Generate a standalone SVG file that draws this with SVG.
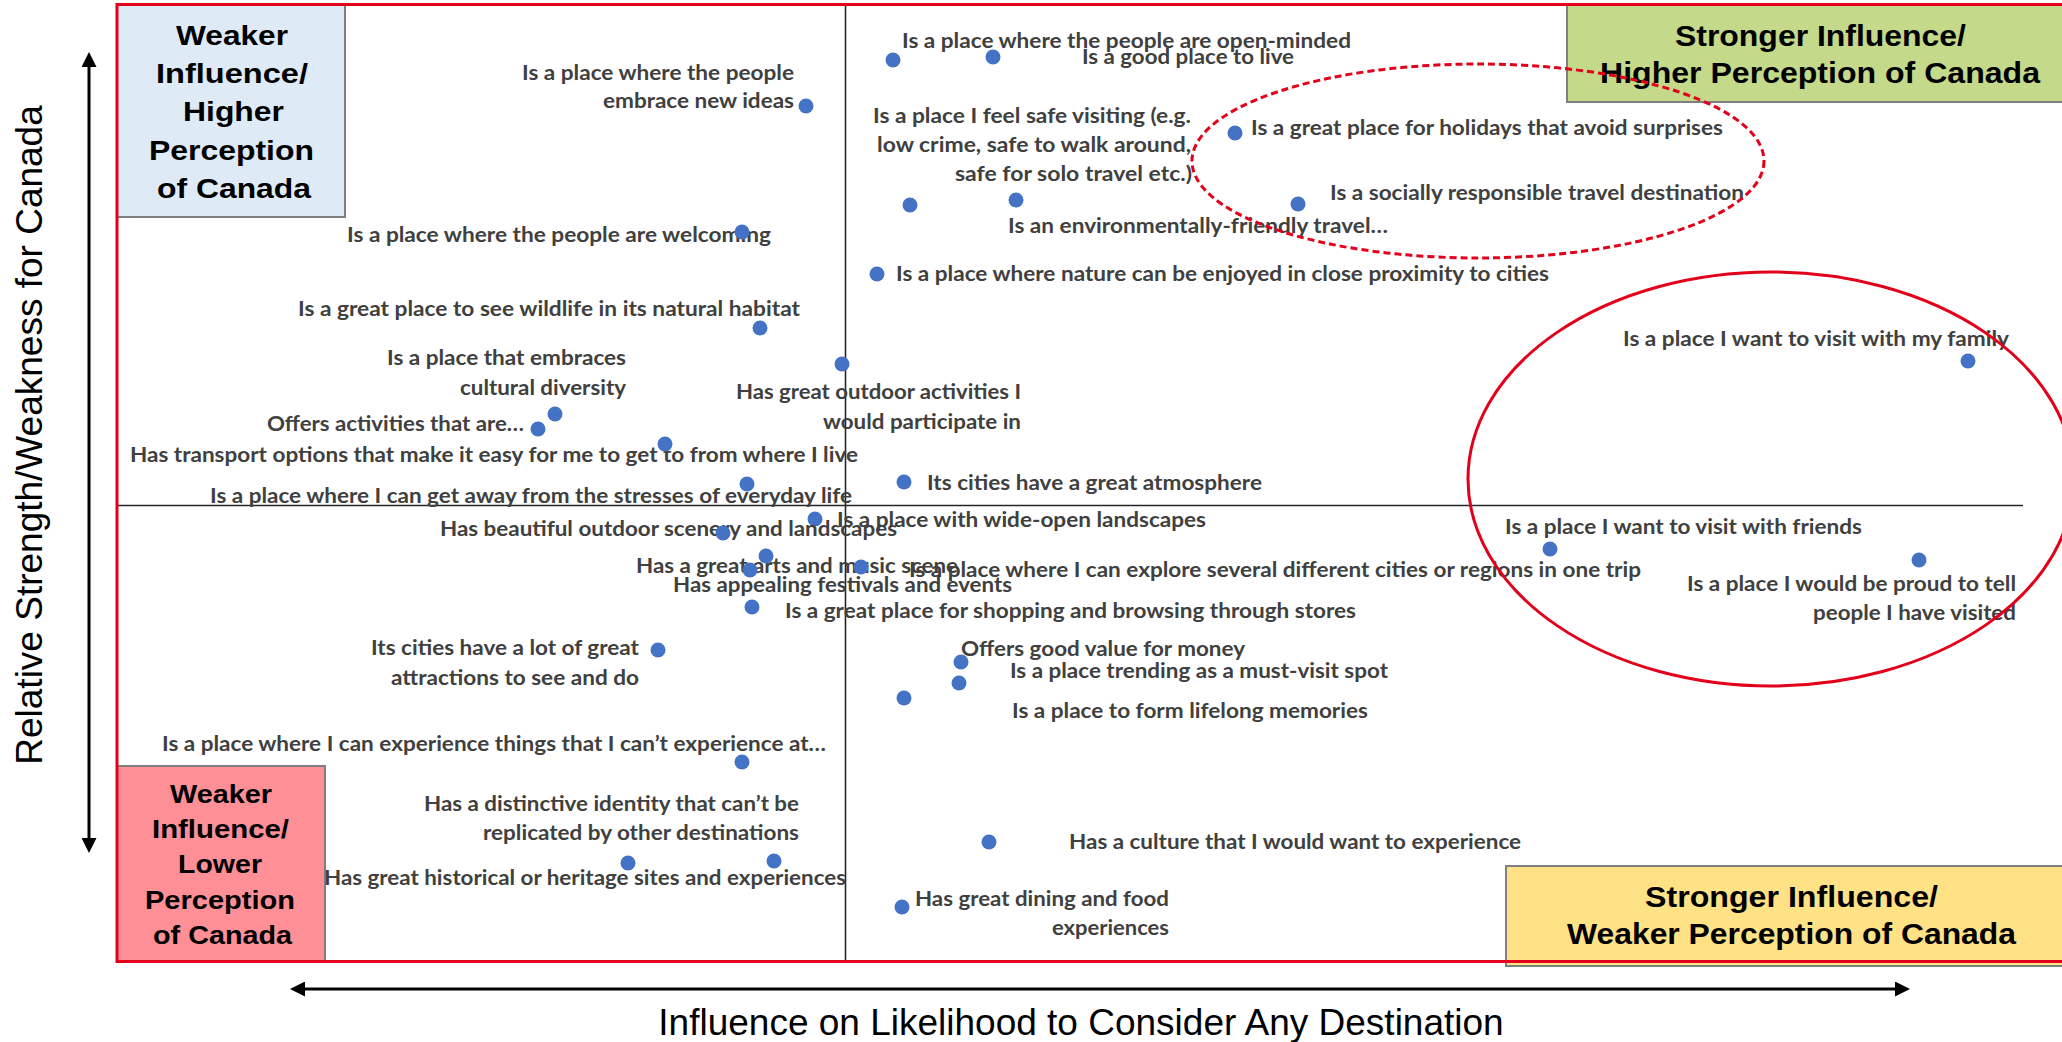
<svg xmlns="http://www.w3.org/2000/svg" width="2062" height="1042" viewBox="0 0 2062 1042">
<defs>
<style>
.lbl{font-family:Lato,"Liberation Sans",sans-serif;font-weight:700;font-size:21.5px;fill:#404040}
.qt{font-family:"Liberation Sans",Arial,sans-serif;font-weight:700;fill:#000}
.qbox{stroke:#7F7F7F;stroke-width:2}
.dot{fill:#4472C4}
.ax{font-family:"Liberation Sans",Arial,sans-serif;font-size:37px;fill:#000}
.div{stroke:#262626;stroke-width:1.6;fill:none}
.axis{stroke:#000;stroke-width:3;fill:none}
.ell{fill:none;stroke:#E2001A;stroke-width:3}
</style>
<marker id="ah" viewBox="0 0 15 15" refX="3" refY="7.5" markerWidth="15" markerHeight="15" markerUnits="userSpaceOnUse" orient="auto-start-reverse">
<path d="M0,0 L15,7.5 L0,15 Z" fill="#000"/>
</marker>
</defs>
<rect x="0" y="0" width="2062" height="1042" fill="#fff"/>

<g id="quadrant-boxes">
<g id="box-weaker-higher">
<rect class="qbox" x="117" y="4" width="228" height="213" fill="#DEEBF7"/>
<text class="qt" font-size="28.5" x="176" y="44.5" textLength="112" lengthAdjust="spacingAndGlyphs">Weaker</text>
<text class="qt" font-size="28.5" x="156" y="83" textLength="152" lengthAdjust="spacingAndGlyphs">Influence/</text>
<text class="qt" font-size="28.5" x="183" y="121" textLength="101" lengthAdjust="spacingAndGlyphs">Higher</text>
<text class="qt" font-size="28.5" x="149" y="159.5" textLength="165" lengthAdjust="spacingAndGlyphs">Perception</text>
<text class="qt" font-size="28.5" x="157" y="197.5" textLength="154" lengthAdjust="spacingAndGlyphs">of Canada</text>
</g>
<g id="box-stronger-higher">
<rect class="qbox" x="1567" y="4" width="510" height="98" fill="#C4D98A"/>
<text class="qt" font-size="29" x="1675" y="45.5" textLength="291" lengthAdjust="spacingAndGlyphs">Stronger Influence/</text>
<text class="qt" font-size="29" x="1600" y="83" textLength="440" lengthAdjust="spacingAndGlyphs">Higher Perception of Canada</text>
</g>
<g id="box-weaker-lower">
<rect class="qbox" x="117" y="766" width="208" height="195" fill="#FF8F97"/>
<text class="qt" font-size="26" x="170" y="803" textLength="102" lengthAdjust="spacingAndGlyphs">Weaker</text>
<text class="qt" font-size="26" x="152" y="838" textLength="137" lengthAdjust="spacingAndGlyphs">Influence/</text>
<text class="qt" font-size="26" x="178" y="873" textLength="84" lengthAdjust="spacingAndGlyphs">Lower</text>
<text class="qt" font-size="26" x="145" y="908.5" textLength="150" lengthAdjust="spacingAndGlyphs">Perception</text>
<text class="qt" font-size="26" x="153" y="944" textLength="139" lengthAdjust="spacingAndGlyphs">of Canada</text>
</g>
<g id="box-stronger-weaker">
<rect class="qbox" x="1506" y="866" width="570" height="100" fill="#FFE186"/>
<text class="qt" font-size="29" x="1645" y="906.5" textLength="293" lengthAdjust="spacingAndGlyphs">Stronger Influence/</text>
<text class="qt" font-size="29" x="1567" y="943.5" textLength="449" lengthAdjust="spacingAndGlyphs">Weaker Perception of Canada</text>
</g>
</g>

<g id="dividers">
<line class="div" x1="845.5" y1="4" x2="845.5" y2="961"/>
<line class="div" x1="117" y1="505.5" x2="2023" y2="505.5" stroke-width="2"/>
</g>

<g id="points">
<g id="p1"><text class="lbl" x="902" y="48" textLength="449" lengthAdjust="spacingAndGlyphs">Is a place where the people are open-minded</text><circle class="dot" cx="893" cy="60" r="7.5"/></g>
<g id="p2"><text class="lbl" x="1082" y="64" textLength="212" lengthAdjust="spacingAndGlyphs">Is a good place to live</text><circle class="dot" cx="993" cy="57" r="7.5"/></g>
<g id="p3"><text class="lbl" x="522" y="80" textLength="272" lengthAdjust="spacingAndGlyphs">Is a place where the people</text><text class="lbl" x="603" y="108" textLength="191" lengthAdjust="spacingAndGlyphs">embrace new ideas</text><circle class="dot" cx="806" cy="106" r="7.5"/></g>
<g id="p4"><text class="lbl" x="873" y="123" textLength="318" lengthAdjust="spacingAndGlyphs">Is a place I feel safe visiting (e.g.</text><text class="lbl" x="877" y="152" textLength="314" lengthAdjust="spacingAndGlyphs">low crime, safe to walk around,</text><text class="lbl" x="955" y="181" textLength="237" lengthAdjust="spacingAndGlyphs">safe for solo travel etc.)</text><circle class="dot" cx="910" cy="205" r="7.5"/></g>
<g id="p5"><text class="lbl" x="1251" y="135" textLength="472" lengthAdjust="spacingAndGlyphs">Is a great place for holidays that avoid surprises</text><circle class="dot" cx="1235" cy="133" r="7.5"/></g>
<g id="p6"><text class="lbl" x="1330" y="200" textLength="414" lengthAdjust="spacingAndGlyphs">Is a socially responsible travel destination</text><circle class="dot" cx="1298" cy="204" r="7.5"/></g>
<g id="p7"><text class="lbl" x="1008" y="233" textLength="380" lengthAdjust="spacingAndGlyphs">Is an environmentally-friendly travel…</text><circle class="dot" cx="1016" cy="200" r="7.5"/></g>
<g id="p8"><text class="lbl" x="347" y="242" textLength="424" lengthAdjust="spacingAndGlyphs">Is a place where the people are welcoming</text><circle class="dot" cx="742" cy="232" r="7.5"/></g>
<g id="p9"><text class="lbl" x="896" y="281" textLength="653" lengthAdjust="spacingAndGlyphs">Is a place where nature can be enjoyed in close proximity to cities</text><circle class="dot" cx="877" cy="274" r="7.5"/></g>
<g id="p10"><text class="lbl" x="298" y="316" textLength="502" lengthAdjust="spacingAndGlyphs">Is a great place to see wildlife in its natural habitat</text><circle class="dot" cx="760" cy="328" r="7.5"/></g>
<g id="p11"><text class="lbl" x="1623" y="346" textLength="386" lengthAdjust="spacingAndGlyphs">Is a place I want to visit with my family</text><circle class="dot" cx="1968" cy="361" r="7.5"/></g>
<g id="p12"><text class="lbl" x="387" y="365" textLength="239" lengthAdjust="spacingAndGlyphs">Is a place that embraces</text><text class="lbl" x="460" y="395" textLength="166" lengthAdjust="spacingAndGlyphs">cultural diversity</text><circle class="dot" cx="555" cy="414" r="7.5"/></g>
<g id="p13"><text class="lbl" x="736" y="399" textLength="285" lengthAdjust="spacingAndGlyphs">Has great outdoor activities I</text><text class="lbl" x="823" y="429" textLength="198" lengthAdjust="spacingAndGlyphs">would participate in</text><circle class="dot" cx="842" cy="364" r="7.5"/></g>
<g id="p14"><text class="lbl" x="267" y="431" textLength="257" lengthAdjust="spacingAndGlyphs">Offers activities that are…</text><circle class="dot" cx="538" cy="429" r="7.5"/></g>
<g id="p15"><text class="lbl" x="130" y="462" textLength="728" lengthAdjust="spacingAndGlyphs">Has transport options that make it easy for me to get to from where I live</text><circle class="dot" cx="665" cy="444" r="7.5"/></g>
<g id="p16"><text class="lbl" x="927" y="490" textLength="335" lengthAdjust="spacingAndGlyphs">Its cities have a great atmosphere</text><circle class="dot" cx="904" cy="482" r="7.5"/></g>
<g id="p17"><text class="lbl" x="210" y="503" textLength="642" lengthAdjust="spacingAndGlyphs">Is a place where I can get away from the stresses of everyday life</text><circle class="dot" cx="747" cy="484" r="7.5"/></g>
<g id="p18"><text class="lbl" x="837" y="527" textLength="369" lengthAdjust="spacingAndGlyphs">Is a place with wide-open landscapes</text><circle class="dot" cx="815" cy="519" r="7.5"/></g>
<g id="p19"><text class="lbl" x="440" y="536" textLength="457" lengthAdjust="spacingAndGlyphs">Has beautiful outdoor scenery and landscapes</text><circle class="dot" cx="723" cy="533" r="7.5"/></g>
<g id="p20"><text class="lbl" x="1505" y="534" textLength="357" lengthAdjust="spacingAndGlyphs">Is a place I want to visit with friends</text><circle class="dot" cx="1550" cy="549" r="7.5"/></g>
<g id="p21"><text class="lbl" x="636" y="573" textLength="322" lengthAdjust="spacingAndGlyphs">Has a great arts and music scene</text><circle class="dot" cx="766" cy="556" r="7.5"/></g>
<g id="p22"><text class="lbl" x="909" y="577" textLength="732" lengthAdjust="spacingAndGlyphs">Is a place where I can explore several different cities or regions in one trip</text><circle class="dot" cx="861" cy="567" r="7.5"/></g>
<g id="p23"><text class="lbl" x="673" y="592" textLength="339" lengthAdjust="spacingAndGlyphs">Has appealing festivals and events</text><circle class="dot" cx="750" cy="570" r="7.5"/></g>
<g id="p24"><text class="lbl" x="1687" y="591" textLength="329" lengthAdjust="spacingAndGlyphs">Is a place I would be proud to tell</text><text class="lbl" x="1813" y="620" textLength="203" lengthAdjust="spacingAndGlyphs">people I have visited</text><circle class="dot" cx="1919" cy="560" r="7.5"/></g>
<g id="p25"><text class="lbl" x="785" y="618" textLength="571" lengthAdjust="spacingAndGlyphs">Is a great place for shopping and browsing through stores</text><circle class="dot" cx="752" cy="607" r="7.5"/></g>
<g id="p26"><text class="lbl" x="371" y="655" textLength="268" lengthAdjust="spacingAndGlyphs">Its cities have a lot of great</text><text class="lbl" x="391" y="685" textLength="248" lengthAdjust="spacingAndGlyphs">attractions to see and do</text><circle class="dot" cx="658" cy="650" r="7.5"/></g>
<g id="p27"><text class="lbl" x="961" y="656" textLength="284" lengthAdjust="spacingAndGlyphs">Offers good value for money</text><circle class="dot" cx="961" cy="662" r="7.5"/></g>
<g id="p28"><text class="lbl" x="1010" y="678" textLength="378" lengthAdjust="spacingAndGlyphs">Is a place trending as a must-visit spot</text><circle class="dot" cx="959" cy="683" r="7.5"/></g>
<g id="p29"><text class="lbl" x="1012" y="718" textLength="356" lengthAdjust="spacingAndGlyphs">Is a place to form lifelong memories</text><circle class="dot" cx="904" cy="698" r="7.5"/></g>
<g id="p30"><text class="lbl" x="162" y="751" textLength="664" lengthAdjust="spacingAndGlyphs">Is a place where I can experience things that I can’t experience at…</text><circle class="dot" cx="742" cy="762" r="7.5"/></g>
<g id="p31"><text class="lbl" x="424" y="811" textLength="375" lengthAdjust="spacingAndGlyphs">Has a distinctive identity that can’t be</text><text class="lbl" x="483" y="840" textLength="316" lengthAdjust="spacingAndGlyphs">replicated by other destinations</text><circle class="dot" cx="774" cy="861" r="7.5"/></g>
<g id="p32"><text class="lbl" x="324" y="885" textLength="522" lengthAdjust="spacingAndGlyphs">Has great historical or heritage sites and experiences</text><circle class="dot" cx="628" cy="863" r="7.5"/></g>
<g id="p33"><text class="lbl" x="1069" y="849" textLength="452" lengthAdjust="spacingAndGlyphs">Has a culture that I would want to experience</text><circle class="dot" cx="989" cy="842" r="7.5"/></g>
<g id="p34"><text class="lbl" x="915" y="906" textLength="254" lengthAdjust="spacingAndGlyphs">Has great dining and food</text><text class="lbl" x="1052" y="935" textLength="117" lengthAdjust="spacingAndGlyphs">experiences</text><circle class="dot" cx="902" cy="907" r="7.5"/></g>
</g>

<g id="highlights">
<ellipse class="ell" cx="1478" cy="161" rx="286" ry="97" stroke-width="2.5" stroke-dasharray="7 4"/>
<ellipse class="ell" cx="1771" cy="479" rx="303" ry="207"/>
</g>

<rect id="frame" x="117" y="4.5" width="1965" height="957" fill="none" stroke="#E2001A" stroke-width="3"/>

<g id="connectors">
<line class="axis" x1="89" y1="64" x2="89" y2="841" marker-start="url(#ah)" marker-end="url(#ah)"/>
<line class="axis" x1="302" y1="989" x2="1898" y2="989" marker-start="url(#ah)" marker-end="url(#ah)"/>
</g>

<g id="axis-titles">
<text class="ax" transform="translate(42,435) rotate(-90)" text-anchor="middle">Relative Strength/Weakness for Canada</text>
<text class="ax" x="1081" y="1035" text-anchor="middle">Influence on Likelihood to Consider Any Destination</text>
</g>
</svg>
